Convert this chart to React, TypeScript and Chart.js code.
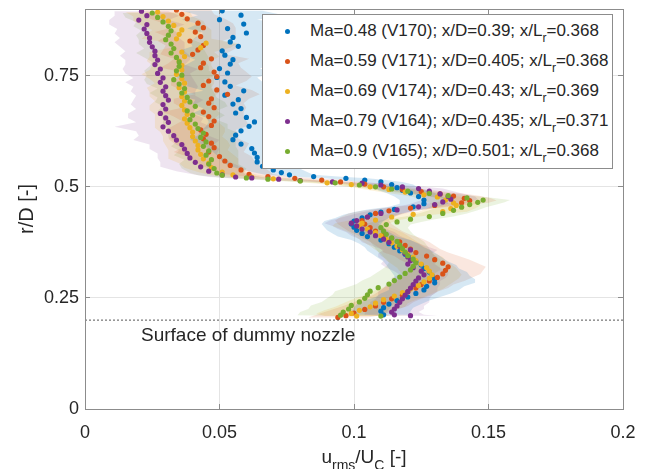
import React, { useEffect, useRef } from "react";
import { Chart, registerables } from "chart.js";

Chart.register(...registerables);

// ---------- axes ----------
const xTicks = [0, 0.05, 0.1, 0.15, 0.2];
const xTickLabels = ["0", "0.05", "0.1", "0.15", "0.2"];
const yTicks = [0, 0.25, 0.5, 0.75];
const yTickLabels = ["0", "0.25", "0.5", "0.75"];
const yMax = 0.9;
const nozzleSurface = 0.2;
const surfaceLabel = "Surface of dummy nozzle";
const yTitle = "r/D [-]";

// ---------- legend ----------
const legendMa = ["0.48", "0.59", "0.69", "0.79", "0.9"];
const legendRun = ["V170", "V171", "V174", "V164", "V165"];
const legendXD = ["0.39", "0.405", "0.43", "0.435", "0.501"];
const legendXLr = ["0.368", "0.368", "0.369", "0.371", "0.368"];

// ---------- Ma = 0.48 (blue) ----------
const rD048 = [0.896,0.886,0.876,0.866,0.856,0.846,0.836,0.826,0.816,0.806,
 0.796,0.786,0.776,0.766,0.756,0.746,0.736,0.726,0.716,0.706,
 0.696,0.686,0.676,0.666,0.656,0.646,0.636,0.626,0.616,0.606,
 0.596,0.586,0.576,0.566,0.556,0.546,0.538,0.532,
 0.527,0.523,0.519,0.515,0.511,0.505,0.498,0.492,0.486,0.478,
 0.470,0.462,0.455,0.449,0.443,0.437,0.430,0.423,0.416,0.409,
 0.402,0.395,0.388,0.380,0.372,0.364,0.356,0.348,0.340,0.332,
 0.324,0.316,0.308,0.300,0.292,0.284,0.276,0.268,0.260,0.252,
 0.244,0.236,0.228,0.220,0.212];
const u048 = [0.051,0.058,0.050,0.059,0.053,0.060,0.055,0.054,0.057,0.051,
 0.052,0.055,0.054,0.050,0.053,0.049,0.052,0.054,0.059,0.052,
 0.057,0.055,0.058,0.056,0.060,0.063,0.061,0.058,0.056,0.055,
 0.058,0.062,0.063,0.064,0.064,0.066,0.070,0.073,
 0.076,0.085,0.097,0.104,0.110,0.114,0.116,0.118,0.121,0.124,
 0.126,0.126,0.122,0.115,0.110,0.106,0.103,0.100,0.099,0.100,
 0.101,0.103,0.105,0.110,0.113,0.115,0.117,0.119,0.121,0.123,
 0.125,0.126,0.128,0.129,0.130,0.130,0.127,0.126,0.123,0.120,
 0.116,0.113,0.111,0.110,0.111];
const s048 = [0.015,0.016,0.014,0.017,0.015,0.016,0.014,0.015,0.017,0.016,
 0.015,0.014,0.016,0.015,0.017,0.015,0.014,0.016,0.015,0.017,
 0.016,0.015,0.014,0.016,0.015,0.017,0.016,0.015,0.014,0.016,
 0.015,0.016,0.015,0.014,0.013,0.012,0.011,0.010,
 0.009,0.009,0.008,0.008,0.008,0.008,0.008,0.009,0.009,0.009,
 0.009,0.009,0.009,0.010,0.010,0.010,0.010,0.011,0.011,0.011,
 0.011,0.011,0.011,0.011,0.011,0.011,0.012,0.012,0.012,0.012,
 0.013,0.013,0.014,0.014,0.015,0.015,0.014,0.013,0.013,0.012,
 0.012,0.012,0.011,0.011,0.010];

// ---------- Ma = 0.59 (orange) ----------
const rD059 = [0.898,0.888,0.878,0.868,0.858,0.848,0.838,0.828,0.818,0.808,
 0.798,0.788,0.778,0.768,0.758,0.748,0.738,0.728,0.718,0.708,
 0.698,0.688,0.678,0.668,0.658,0.648,0.638,0.628,0.618,0.608,
 0.598,0.588,0.578,0.568,0.558,0.548,0.538,0.528,
 0.523,0.519,0.515,0.511,0.506,0.500,0.494,0.489,0.484,0.479,
 0.474,0.469,0.464,0.458,0.452,0.446,0.440,0.432,0.424,0.416,
 0.408,0.400,0.392,0.384,0.376,0.368,0.360,0.352,0.344,0.336,
 0.328,0.320,0.312,0.304,0.296,0.288,0.280,0.272,0.264,0.256,
 0.248,0.240,0.232,0.224,0.216,0.210,0.206];
const u059 = [0.034,0.036,0.038,0.042,0.044,0.041,0.043,0.039,0.044,0.042,
 0.040,0.047,0.044,0.043,0.048,0.049,0.046,0.044,0.049,0.053,
 0.047,0.046,0.048,0.044,0.046,0.048,0.047,0.043,0.045,0.044,
 0.047,0.048,0.046,0.050,0.052,0.054,0.058,0.061,
 0.068,0.078,0.088,0.095,0.104,0.111,0.118,0.125,0.132,0.137,
 0.141,0.143,0.140,0.130,0.121,0.113,0.108,0.105,0.103,0.104,
 0.106,0.108,0.111,0.114,0.117,0.119,0.121,0.123,0.127,0.130,
 0.133,0.135,0.134,0.133,0.131,0.128,0.125,0.123,0.120,0.118,
 0.114,0.111,0.108,0.104,0.100,0.097,0.094];
const s059 = [0.013,0.012,0.014,0.013,0.012,0.015,0.013,0.012,0.014,0.013,
 0.012,0.014,0.013,0.015,0.012,0.013,0.014,0.012,0.013,0.012,
 0.014,0.013,0.012,0.015,0.013,0.012,0.014,0.013,0.012,0.013,
 0.014,0.012,0.013,0.012,0.011,0.011,0.010,0.009,
 0.008,0.008,0.008,0.008,0.008,0.009,0.009,0.009,0.010,0.010,
 0.010,0.010,0.010,0.010,0.010,0.010,0.010,0.010,0.010,0.010,
 0.010,0.010,0.010,0.011,0.011,0.011,0.011,0.012,0.012,0.013,
 0.013,0.014,0.014,0.014,0.013,0.013,0.012,0.012,0.011,0.011,
 0.011,0.011,0.012,0.012,0.012,0.012,0.011];

// ---------- Ma = 0.69 (yellow) ----------
const rD069 = [0.893,0.883,0.873,0.863,0.853,0.843,0.833,0.823,0.813,0.803,
 0.793,0.783,0.773,0.763,0.753,0.743,0.733,0.723,0.713,0.703,
 0.693,0.683,0.673,0.663,0.653,0.643,0.633,0.623,0.613,0.603,
 0.593,0.583,0.573,0.563,0.553,0.543,0.533,0.527,
 0.522,0.518,0.514,0.509,0.505,0.500,0.494,0.488,0.482,0.477,
 0.470,0.464,0.458,0.451,0.444,0.438,0.432,0.425,0.418,0.412,
 0.405,0.397,0.390,0.382,0.374,0.366,0.358,0.350,0.342,0.334,
 0.326,0.318,0.310,0.302,0.294,0.286,0.278,0.270,0.262,0.254,
 0.246,0.238,0.230,0.222,0.215,0.209];
const u069 = [0.027,0.029,0.031,0.033,0.036,0.035,0.034,0.045,0.043,0.036,
 0.037,0.035,0.036,0.036,0.034,0.036,0.037,0.035,0.037,0.036,
 0.037,0.036,0.037,0.038,0.037,0.038,0.039,0.040,0.040,0.041,
 0.042,0.042,0.043,0.044,0.046,0.047,0.051,0.055,
 0.062,0.070,0.080,0.090,0.099,0.106,0.113,0.119,0.126,0.131,
 0.134,0.137,0.138,0.136,0.133,0.122,0.114,0.108,0.103,0.102,
 0.105,0.108,0.110,0.112,0.114,0.116,0.118,0.120,0.122,0.123,
 0.125,0.127,0.128,0.129,0.128,0.126,0.124,0.121,0.118,0.115,
 0.111,0.108,0.106,0.102,0.099,0.101];
const s069 = [0.012,0.011,0.013,0.012,0.011,0.012,0.013,0.012,0.011,0.012,
 0.013,0.012,0.011,0.012,0.013,0.012,0.011,0.012,0.013,0.012,
 0.011,0.012,0.013,0.012,0.011,0.012,0.013,0.012,0.011,0.012,
 0.012,0.011,0.012,0.013,0.011,0.010,0.009,0.009,
 0.008,0.008,0.008,0.008,0.008,0.008,0.009,0.009,0.009,0.009,
 0.009,0.009,0.009,0.009,0.009,0.009,0.009,0.009,0.010,0.010,
 0.010,0.010,0.010,0.010,0.010,0.010,0.010,0.010,0.011,0.011,
 0.011,0.011,0.011,0.011,0.011,0.011,0.011,0.012,0.012,0.012,
 0.012,0.012,0.013,0.013,0.013,0.012];

// ---------- Ma = 0.79 (purple) ----------
const rD079 = [0.895,0.885,0.875,0.865,0.855,0.845,0.835,0.825,0.815,0.805,
 0.795,0.785,0.775,0.765,0.755,0.745,0.735,0.725,0.715,0.705,
 0.695,0.685,0.675,0.665,0.655,0.645,0.635,0.625,0.615,0.605,
 0.595,0.585,0.575,0.565,0.555,0.545,0.535,0.527,0.522,
 0.520,0.517,0.514,0.511,0.508,0.504,0.500,0.496,0.490,0.484,0.478,0.472,0.466,
 0.460,0.455,0.448,0.440,0.432,0.424,0.418,0.412,0.405,0.398,
 0.390,0.382,0.375,0.366,0.358,0.350,0.342,0.334,0.326,0.318,
 0.310,0.302,0.295,0.288,0.280,0.272,0.264,0.256,0.248,0.240,
 0.232,0.225,0.218,0.212,0.210];
const u079 = [0.021,0.023,0.020,0.023,0.022,0.023,0.024,0.024,0.025,0.026,
 0.026,0.027,0.026,0.028,0.027,0.029,0.028,0.030,0.029,0.030,
 0.031,0.029,0.030,0.028,0.030,0.031,0.029,0.031,0.033,0.034,
 0.036,0.037,0.038,0.039,0.041,0.043,0.046,0.051,0.056,0.062,
 0.072,0.080,0.092,0.103,0.110,0.118,0.124,0.128,0.132,0.135,
 0.136,0.133,0.130,0.124,0.116,0.110,0.105,0.101,0.099,0.101,
 0.103,0.106,0.108,0.111,0.113,0.117,0.121,0.119,0.120,0.121,
 0.120,0.122,0.125,0.126,0.124,0.123,0.122,0.121,0.120,0.119,
 0.118,0.117,0.116,0.115,0.114,0.115,0.121];
const s079 = [0.010,0.012,0.011,0.014,0.010,0.012,0.011,0.013,0.012,0.011,
 0.013,0.012,0.011,0.014,0.012,0.011,0.013,0.012,0.012,0.011,
 0.013,0.012,0.011,0.012,0.014,0.012,0.018,0.012,0.013,0.016,
 0.012,0.013,0.011,0.012,0.013,0.015,0.012,0.010,0.010,0.009,
 0.009,0.008,0.008,0.008,0.008,0.008,0.009,0.009,0.009,0.010,
 0.010,0.010,0.010,0.009,0.009,0.009,0.009,0.010,0.010,0.009,
 0.009,0.009,0.009,0.009,0.010,0.010,0.010,0.010,0.011,0.010,
 0.010,0.010,0.010,0.009,0.010,0.009,0.010,0.010,0.011,0.010,
 0.010,0.011,0.010,0.011,0.010,0.011,0.010];

// ---------- Ma = 0.9 (green) ----------
const rD090 = [0.891,0.881,0.871,0.861,0.851,0.841,0.831,0.821,0.811,0.801,
 0.791,0.781,0.771,0.761,0.751,0.741,0.731,0.721,0.711,0.701,
 0.691,0.681,0.671,0.661,0.651,0.641,0.631,0.621,0.611,0.601,
 0.591,0.581,0.571,0.561,0.551,0.541,0.531,0.526,
 0.520,0.517,0.513,0.509,0.504,0.500,0.495,0.490,0.485,0.480,
 0.475,0.470,0.465,0.460,0.454,0.447,0.440,0.433,0.427,0.421,
 0.415,0.408,0.400,0.393,0.385,0.377,0.369,0.361,0.353,0.345,
 0.337,0.329,0.321,0.313,0.305,0.297,0.289,0.281,0.273,0.265,
 0.257,0.249,0.241,0.233,0.225,0.218,0.211,0.209];
const u090 = [0.025,0.027,0.029,0.031,0.032,0.031,0.030,0.032,0.033,0.032,
 0.034,0.035,0.035,0.034,0.036,0.033,0.035,0.037,0.036,0.038,
 0.039,0.041,0.038,0.040,0.039,0.041,0.042,0.044,0.043,0.045,
 0.044,0.046,0.045,0.047,0.046,0.048,0.049,0.051,
 0.060,0.068,0.080,0.093,0.102,0.108,0.114,0.120,0.128,0.135,
 0.142,0.148,0.146,0.143,0.140,0.137,0.133,0.128,0.121,0.116,
 0.112,0.110,0.111,0.112,0.114,0.116,0.117,0.118,0.119,0.120,
 0.122,0.123,0.122,0.121,0.119,0.117,0.115,0.113,0.109,0.106,
 0.105,0.104,0.102,0.099,0.098,0.096,0.095,0.110];
const s090 = [0.011,0.012,0.010,0.013,0.011,0.012,0.010,0.012,0.011,0.013,
 0.012,0.010,0.011,0.012,0.013,0.011,0.012,0.010,0.012,0.011,
 0.013,0.012,0.011,0.012,0.010,0.012,0.011,0.013,0.012,0.011,
 0.012,0.011,0.012,0.010,0.011,0.012,0.010,0.009,
 0.008,0.008,0.008,0.008,0.008,0.008,0.008,0.009,0.009,0.009,
 0.010,0.010,0.010,0.010,0.009,0.009,0.009,0.009,0.009,0.009,
 0.009,0.010,0.010,0.010,0.010,0.010,0.010,0.010,0.010,0.010,
 0.010,0.010,0.010,0.011,0.011,0.011,0.012,0.012,0.012,0.013,
 0.013,0.014,0.014,0.015,0.015,0.016,0.016,0.014];

const seriesR = [rD048, rD059, rD069, rD079, rD090];
const seriesU = [u048, u059, u069, u079, u090];
const seriesS = [s048, s059, s069, s079, s090];

const seriesColors = ["#0072BD", "#D95319", "#EDB120", "#7E2F8E", "#77AC30"];
const bandColors = [
  "rgba(0,114,189,0.16)",
  "rgba(217,83,25,0.14)",
  "rgba(237,177,32,0.16)",
  "rgba(126,47,142,0.13)",
  "rgba(119,172,48,0.15)",
];

const FONT = '"Liberation Sans", Arial, Helvetica, sans-serif';
const TEXT = "#262626";
const AXIS = "#8c8c8c";

const align = (v: number) => Math.round(v - 0.5) + 0.5;

const decorPlugin = {
  id: "decor",
  afterDatasetsDraw(chart: any) {
    const { ctx, chartArea: a, scales } = chart;
    const xs = scales.x;
    const ys = scales.y;
    ctx.save();
    ctx.strokeStyle = AXIS;
    ctx.lineWidth = 1;
    ctx.setLineDash([]);
    ctx.beginPath();
    xTicks.forEach((v) => {
      const px = align(xs.getPixelForValue(v));
      ctx.moveTo(px, a.bottom);
      ctx.lineTo(px, a.bottom - 5);
      ctx.moveTo(px, a.top);
      ctx.lineTo(px, a.top + 5);
    });
    yTicks.forEach((v) => {
      const py = align(ys.getPixelForValue(v));
      ctx.moveTo(a.left, py);
      ctx.lineTo(a.left + 5, py);
      ctx.moveTo(a.right, py);
      ctx.lineTo(a.right - 5, py);
    });
    ctx.stroke();
    ctx.strokeRect(align(a.left), align(a.top), Math.round(a.right - a.left), Math.round(a.bottom - a.top));

    ctx.fillStyle = TEXT;
    // annotation
    ctx.font = `19px ${FONT}`;
    ctx.textAlign = "left";
    ctx.textBaseline = "alphabetic";
    ctx.fillText(surfaceLabel, a.left + 56, ys.getPixelForValue(nozzleSurface) + 21);

    // y title
    ctx.save();
    ctx.font = `20px ${FONT}`;
    ctx.translate(33, (a.top + a.bottom) / 2);
    ctx.rotate(-Math.PI / 2);
    ctx.textAlign = "center";
    ctx.fillText(yTitle, 0, 0);
    ctx.restore();

    // x title with subscripts
    const parts = [
      { t: "u", sub: false },
      { t: "rms", sub: true },
      { t: "/U", sub: false },
      { t: "C", sub: true },
      { t: " [-]", sub: false },
    ];
    const mainF = `19px ${FONT}`;
    const subF = `14px ${FONT}`;
    let w = 0;
    parts.forEach((p) => {
      ctx.font = p.sub ? subF : mainF;
      w += ctx.measureText(p.t).width;
    });
    let x = (a.left + a.right) / 2 + 10 - w / 2;
    const base = a.bottom + 54;
    ctx.textAlign = "left";
    parts.forEach((p) => {
      ctx.font = p.sub ? subF : mainF;
      ctx.fillText(p.t, x, p.sub ? base + 7 : base);
      x += ctx.measureText(p.t).width;
    });
    ctx.restore();
  },
};

export default function App() {
  const ref = useRef<HTMLCanvasElement>(null);

  useEffect(() => {
    if (!ref.current) return;
    const datasets: any[] = [];

    seriesR.forEach((r, i) => {
      const u = seriesU[i];
      const n = Math.min(r.length, u.length);
      const pts = [];
      for (let k = 0; k < n; k++) pts.push({ x: u[k], y: r[k] });
      datasets.push({
        type: "line",
        data: pts,
        showLine: false,
        pointRadius: 2.6,
        pointBorderWidth: 0,
        pointBackgroundColor: seriesColors[i],
        pointBorderColor: seriesColors[i],
        order: 5 - i,
      });
    });

    seriesR.forEach((r, i) => {
      const u = seriesU[i];
      const s = seriesS[i];
      const n = Math.min(r.length, u.length, s.length);
      const lo = [];
      const hi = [];
      for (let k = 0; k < n; k++) {
        lo.push({ x: u[k] - s[k], y: r[k] });
        hi.push({ x: u[k] + s[k], y: r[k] });
      }
      datasets.push({
        type: "line",
        indexAxis: "y",
        data: lo.concat(hi.reverse()),
        fill: "shape",
        backgroundColor: bandColors[i],
        borderColor: "rgba(0,0,0,0)",
        borderWidth: 0,
        pointRadius: 0,
        tension: 0,
        order: 20 + i,
      });
    });

    datasets.push({
      type: "line",
      data: [
        { x: xTicks[0], y: nozzleSurface },
        { x: xTicks[xTicks.length - 1], y: nozzleSurface },
      ],
      borderColor: "#555555",
      borderWidth: 1,
      borderDash: [2, 2],
      pointRadius: 0,
      fill: false,
      order: 0,
    });

    const chart = new Chart(ref.current, {
      type: "line",
      data: { datasets },
      options: {
        animation: false,
        responsive: true,
        maintainAspectRatio: false,
        events: [],
        layout: { padding: { top: 9, right: 23, left: 0, bottom: 0 } },
        plugins: { legend: { display: false }, tooltip: { enabled: false } },
        scales: {
          x: {
            type: "linear",
            position: "bottom",
            min: xTicks[0],
            max: xTicks[xTicks.length - 1],
            afterBuildTicks: (sc: any) => {
              sc.ticks = xTicks.map((v) => ({ value: v }));
            },
            afterFit: (sc: any) => {
              sc.height = 60;
              sc.paddingLeft = 0;
              sc.paddingRight = 0;
            },
            grid: { color: "#e4e4e4", lineWidth: 1, drawTicks: false },
            border: { display: false },
            ticks: {
              padding: 13,
              color: TEXT,
              font: { family: FONT, size: 18 },
              maxRotation: 0,
              callback: (_v: any, idx: number) => xTickLabels[idx],
            },
          },
          y: {
            type: "linear",
            position: "left",
            min: 0,
            max: yMax,
            afterBuildTicks: (sc: any) => {
              sc.ticks = yTicks.map((v) => ({ value: v }));
            },
            afterFit: (sc: any) => {
              sc.width = 85;
              sc.paddingTop = 0;
              sc.paddingBottom = 0;
            },
            grid: { color: "#e4e4e4", lineWidth: 1, drawTicks: false },
            border: { display: false },
            ticks: {
              padding: 6,
              color: TEXT,
              font: { family: FONT, size: 18 },
              callback: (_v: any, idx: number) => yTickLabels[idx],
            },
          },
        },
      },
      plugins: [decorPlugin],
    } as any);

    return () => chart.destroy();
  }, []);

  return (
    <div style={{ position: "absolute", left: 0, top: 0, width: 646, height: 469, background: "#fff" }}>
      <canvas ref={ref} style={{ display: "block" }} />
      <div
        style={{
          position: "absolute",
          left: 262,
          top: 14,
          width: 351,
          height: 155,
          boxSizing: "border-box",
          border: `1px solid ${AXIS}`,
          background: "#fff",
          fontFamily: FONT,
          fontSize: 17,
          color: TEXT,
        }}
      >
        {legendMa.map((ma, i) => (
          <div
            key={i}
            style={{ position: "absolute", left: 0, top: 1 + 30 * i, height: 30, width: "100%" }}
          >
            <span
              style={{
                position: "absolute",
                left: 21.5,
                top: 12.5,
                width: 5,
                height: 5,
                borderRadius: "50%",
                background: seriesColors[i],
              }}
            />
            <span style={{ position: "absolute", left: 47, top: 0, lineHeight: "30px", whiteSpace: "nowrap" }}>
              {`Ma=${ma} (${legendRun[i]}); x/D=${legendXD[i]}; x/L`}
              <span style={{ fontSize: 12, position: "relative", top: 6 }}>r</span>
              {`=${legendXLr[i]}`}
            </span>
          </div>
        ))}
      </div>
    </div>
  );
}
